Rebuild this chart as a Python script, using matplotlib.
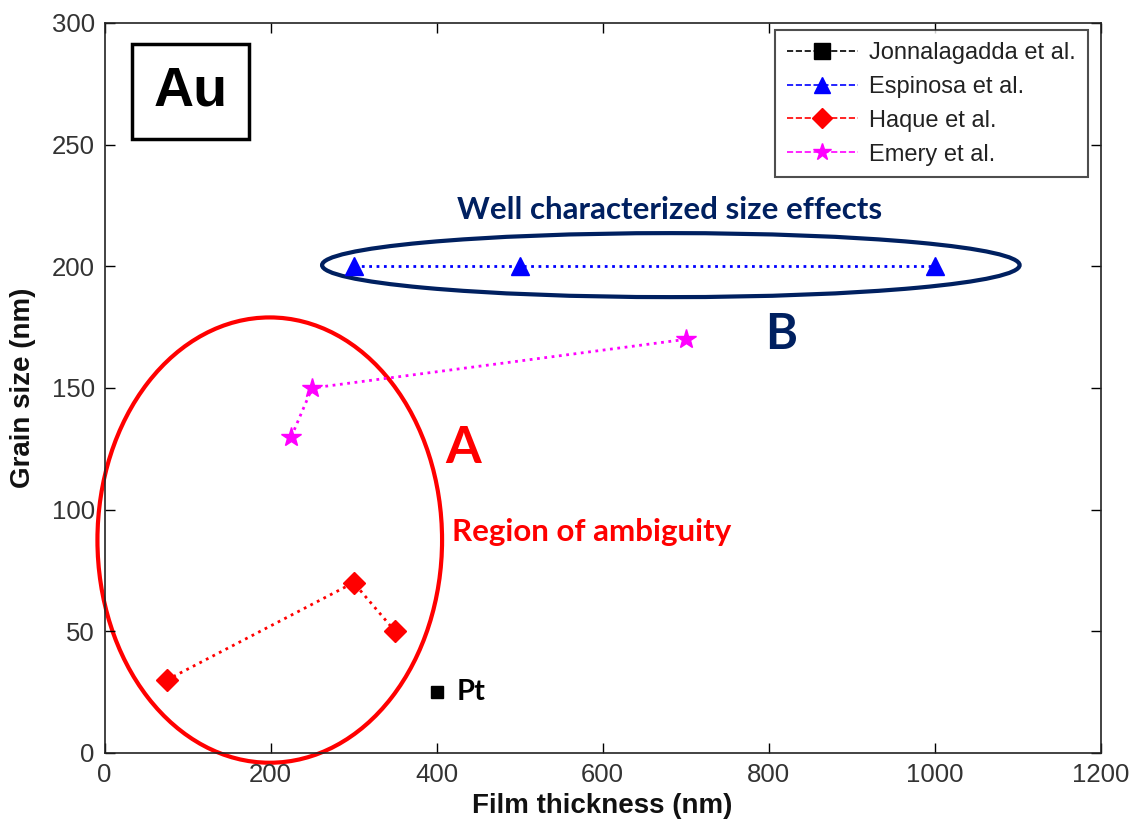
import matplotlib
matplotlib.use("Agg")
import matplotlib.pyplot as plt
from matplotlib.patches import Ellipse
from matplotlib.lines import Line2D

# Data
jon_x = [400]
jon_y = [25]
esp_x = [300, 500, 1000]
esp_y = [200, 200, 200]
haq_x = [75, 300, 350]
haq_y = [30, 70, 50]
eme_x = [225, 250, 700]
eme_y = [130, 150, 170]
series_labels = ["Jonnalagadda et al.", "Espinosa et al.", "Haque et al.", "Emery et al."]
xticks = [0, 200, 400, 600, 800, 1000, 1200]
yticks = [0, 50, 100, 150, 200, 250, 300]

plt.rcParams['font.family'] = ['Liberation Sans', 'DejaVu Sans']

W, H = 1141, 827
fig = plt.figure(figsize=(W / 100, H / 100), dpi=100)
ax = fig.add_axes([104.5 / W, 1 - 753 / H, (1101 - 104.5) / W, (753 - 23) / H])

navy = '#002060'

ax.plot(jon_x, jon_y, linestyle='none', marker='s', color='black', ms=9)
ax.plot(esp_x, esp_y, linestyle=':', lw=2, marker='^', color='#0000ff', ms=13)
ax.plot(haq_x, haq_y, linestyle=':', lw=2, marker='D', color='#ff0000', ms=11)
ax.plot(eme_x, eme_y, linestyle=':', lw=2, marker='*', color='#ff00ff', ms=15)

ax.set_xlim(0, 1200)
ax.set_ylim(0, 300)
ax.set_xticks(xticks)
ax.set_yticks(yticks)
ax.tick_params(direction='in', top=True, right=True, length=7, width=1,
               labelsize=18.5, labelcolor='#333333', pad=7)
for s in ax.spines.values():
    s.set_linewidth(1.2)
    s.set_color('#222222')

# Legend with dashed handles
handles = [
    Line2D([], [], color='black', linestyle='--', marker='s', ms=11, lw=1.2),
    Line2D([], [], color='#0000ff', linestyle='--', marker='^', ms=12, lw=1.2),
    Line2D([], [], color='#ff0000', linestyle='--', marker='D', ms=10, lw=1.2),
    Line2D([], [], color='#ff00ff', linestyle='--', marker='*', ms=13, lw=1.2),
]
leg = ax.legend(handles, series_labels, loc='upper right', bbox_to_anchor=(0.987, 0.990),
                borderaxespad=0, fontsize=17, frameon=True, fancybox=False, edgecolor='#222222',
                handlelength=3.0, borderpad=0.5, labelspacing=0.5, handletextpad=0.5)
leg.get_frame().set_linewidth(1.5)
for t in leg.get_texts():
    t.set_color('#222222')

# Ellipses
ax.add_patch(Ellipse((682, 200.5), 840, 26.3, fill=False, edgecolor=navy, lw=3, clip_on=False))
ax.add_patch(Ellipse((199, 87.5), 415, 183, fill=False, edgecolor='#ff0000', lw=3, clip_on=False))

# Annotations
ann_font = ['Lato', 'DejaVu Sans']
ax.text(680, 223, "Well characterized size effects", color=navy, fontsize=22.5,
        fontweight='bold', family=ann_font, ha='center', va='center')
ax.text(815, 172, "B", color=navy, fontsize=35, fontweight='bold', family=ann_font,
        ha='center', va='center')
ax.text(410, 125, "A", color='#ff0000', fontsize=37, fontweight='bold', family=ann_font,
        ha='left', va='center')
ax.text(418, 91, "Region of ambiguity", color='#ff0000', fontsize=22.5, fontweight='bold',
        family=ann_font, ha='left', va='center')
ax.text(424, 25, "Pt", color='black', fontsize=21, fontweight='bold', family=ann_font,
        ha='left', va='center')

# Au box
fig.text(190.5 / W, 1 - 91.5 / H, "Au", fontsize=40, fontweight='bold', ha='center', va='center',
         bbox=dict(boxstyle='square,pad=0.38', facecolor='white', edgecolor='black', linewidth=2.5))

# Axis labels
fig.text(602 / W, 1 - 806 / H, "Film thickness (nm)", fontsize=20, fontweight='bold',
         ha='center', va='center', color='#111111')
fig.text(23 / W, 1 - 388 / H, "Grain size (nm)", fontsize=20, fontweight='bold',
         ha='center', va='center', rotation=90, color='#111111')

fig.savefig("out.png", dpi=100)
